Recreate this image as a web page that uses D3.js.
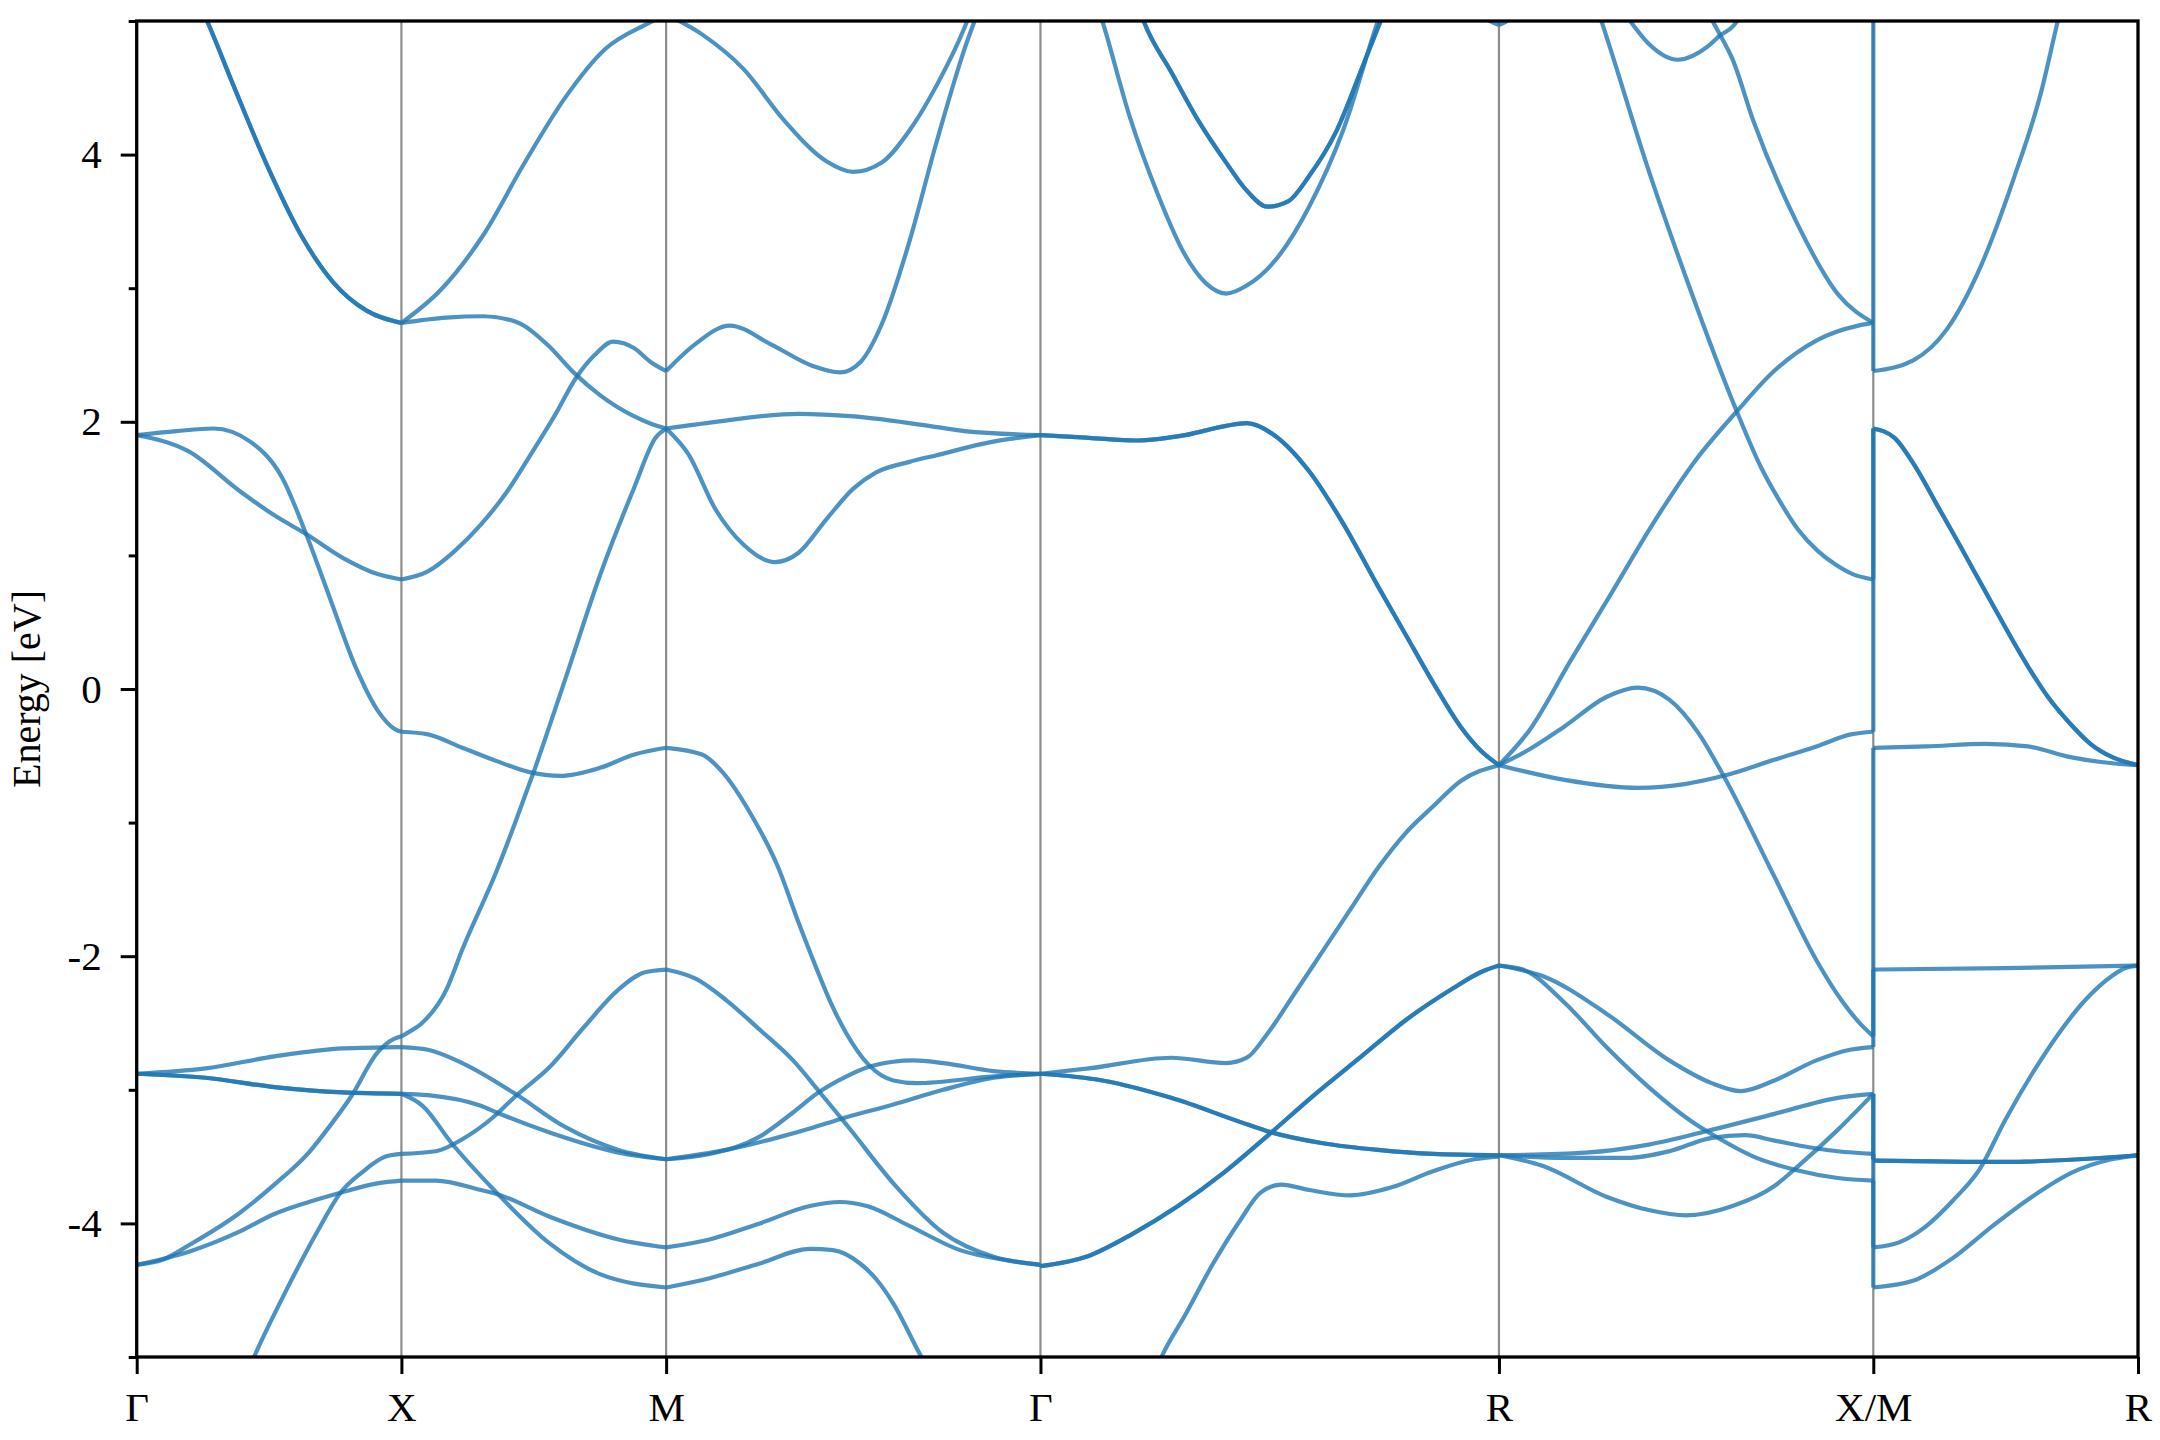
<!DOCTYPE html>
<html><head><meta charset="utf-8">
<script src="https://cdn.jsdelivr.net/npm/d3@7"></script>
<style>
body{margin:0;background:#fff;}
text{font-family:"Liberation Serif","Times New Roman",serif;}
</style>
</head><body>
<svg id="chart" width="2160" height="1440"></svg>
<script>
// ---------- labels / ticks ----------
const kLabels = ["Γ","X","M","Γ","R","X/M","R"];
const kTicks = [0, 0.5, 1.0, 1.7071, 2.5731, 3.2802, 3.7802];
const yMajorTicks = [-4, -2, 0, 2, 4];
const yMinorTicks = [-5, -3, -1, 1, 3, 5];
const yLabel = "Energy [eV]";

// ---------- bands: [t along segment (0..1), energy eV] ----------
// Γ → X
const gxTop = [[0,6.0],[0.12,5.6],[0.266,5.0],[0.365,4.52],[0.49,3.93],[0.62,3.40],[0.74,3.05],[0.87,2.83],[1,2.74]];
const gxF   = [[0,1.90],[0.15,1.93],[0.29,1.95],[0.43,1.85],[0.55,1.58],[0.64,1.16],[0.73,0.68],[0.83,0.15],[0.91,-0.16],[0.975,-0.30],[1,-0.32]];
const gxG   = [[0,1.90],[0.195,1.78],[0.39,1.48],[0.52,1.30],[0.64,1.16],[0.78,0.98],[0.91,0.86],[1,0.82]];
const gxDup = [[0,-2.88],[0.26,-2.84],[0.52,-2.75],[0.78,-2.69],[1,-2.68]];
const gxDlo = [[0,-2.88],[0.26,-2.91],[0.52,-2.98],[0.78,-3.02],[1,-3.03]];
const gxA   = [[0,-4.31],[0.1,-4.27],[0.2,-4.16],[0.39,-3.92],[0.52,-3.71],[0.65,-3.47],[0.73,-3.27],[0.81,-3.05],[0.91,-2.72],[0.97,-2.62],[1,-2.60]];
const gxB   = [[0,-4.31],[0.2,-4.21],[0.39,-4.06],[0.52,-3.93],[0.65,-3.84],[0.77,-3.77],[0.91,-3.70],[1,-3.68]];
const gxC   = [[0.40,-5.2],[0.45,-4.97],[0.56,-4.52],[0.68,-4.07],[0.77,-3.77],[0.85,-3.62],[0.94,-3.50],[1,-3.48]];
const segGX = [gxTop, gxTop, gxF, gxG, gxDup, gxDlo, gxDlo, gxA, gxB, gxC];

// X → M
const xmA  = [[0,-2.60],[0.026,-2.57],[0.078,-2.50],[0.17,-2.25],[0.23,-1.95],[0.36,-1.36],[0.43,-1.0],[0.5,-0.62],[0.62,0.08],[0.75,0.85],[0.88,1.51],[0.96,1.88],[1,1.95]];
const xmF  = [[0,-0.32],[0.10,-0.34],[0.23,-0.44],[0.36,-0.54],[0.48,-0.62],[0.60,-0.65],[0.75,-0.59],[0.88,-0.49],[1,-0.44]];
const xmG  = [[0,0.82],[0.10,0.88],[0.20,1.03],[0.30,1.23],[0.40,1.48],[0.49,1.76],[0.58,2.05],[0.66,2.33],[0.73,2.50],[0.80,2.60],[0.88,2.55],[0.94,2.45],[1,2.38]];
const xmH  = [[0,2.74],[0.17,2.78],[0.31,2.79],[0.43,2.75],[0.55,2.58],[0.65,2.37],[0.75,2.20],[0.88,2.04],[0.95,1.98],[1,1.95]];
const xmI  = [[0,2.74],[0.15,2.99],[0.31,3.40],[0.46,3.92],[0.62,4.43],[0.77,4.79],[0.93,4.98],[1,5.05]];
const xmB  = [[0,-3.68],[0.13,-3.68],[0.30,-3.75],[0.36,-3.78],[0.56,-3.95],[0.82,-4.12],[1,-4.18]];
const xmC  = [[0,-3.48],[0.13,-3.46],[0.23,-3.37],[0.35,-3.20],[0.43,-3.05],[0.56,-2.83],[0.69,-2.53],[0.82,-2.25],[0.92,-2.12],[1,-2.10]];
const xmDup= [[0,-2.68],[0.10,-2.70],[0.23,-2.80],[0.43,-3.03],[0.62,-3.28],[0.82,-3.45],[1,-3.52]];
const xmDlo= [[0,-3.03],[0.10,-3.04],[0.30,-3.12],[0.36,-3.17],[0.56,-3.32],[0.82,-3.47],[1,-3.52]];
const xmE  = [[0,-3.03],[0.08,-3.12],[0.19,-3.40],[0.35,-3.75],[0.56,-4.15],[0.75,-4.38],[1,-4.48]];
const segXM = [xmA, xmF, xmG, xmH, xmI, xmB, xmC, xmDup, xmDlo, xmE];

// M → Γ
const mgC   = [[0,-2.10],[0.08,-2.17],[0.161,-2.33],[0.25,-2.55],[0.339,-2.78],[0.411,-3.02],[0.464,-3.20],[0.49,-3.29],[0.607,-3.70],[0.74,-4.07],[0.875,-4.25],[1,-4.31]];
const mgF   = [[0,-0.44],[0.096,-0.49],[0.15,-0.62],[0.225,-0.93],[0.30,-1.34],[0.354,-1.75],[0.40,-2.08],[0.44,-2.35],[0.482,-2.58],[0.54,-2.81],[0.607,-2.93],[0.669,-2.95],[0.875,-2.90],[1,-2.88]];
const mgHump= [[0,-3.52],[0.116,-3.48],[0.25,-3.35],[0.339,-3.17],[0.402,-3.03],[0.482,-2.90],[0.54,-2.83],[0.607,-2.79],[0.66,-2.78],[0.74,-2.80],[0.875,-2.86],[1,-2.88]];
const mgD   = [[0,-3.52],[0.161,-3.45],[0.295,-3.36],[0.384,-3.29],[0.464,-3.22],[0.607,-3.11],[0.74,-3.00],[0.875,-2.91],[1,-2.88]];
const mgL1  = [[0,-4.18],[0.116,-4.12],[0.25,-4.00],[0.384,-3.87],[0.464,-3.84],[0.536,-3.87],[0.651,-4.02],[0.785,-4.20],[0.92,-4.28],[1,-4.31]];
const mgL2  = [[0,-4.48],[0.116,-4.41],[0.25,-4.30],[0.384,-4.19],[0.446,-4.20],[0.518,-4.30],[0.562,-4.42],[0.607,-4.60],[0.678,-4.98],[0.75,-5.35]];
const mgH   = [[0,1.95],[0.133,2.00],[0.354,2.06],[0.502,2.04],[0.723,1.96],[0.797,1.93],[1,1.90]];
const mgA   = [[0,1.95],[0.059,1.76],[0.133,1.34],[0.207,1.08],[0.29,0.95],[0.354,1.02],[0.428,1.27],[0.50,1.50],[0.56,1.62],[0.65,1.70],[0.723,1.75],[0.87,1.85],[1,1.90]];
const mgG   = [[0,2.38],[0.077,2.58],[0.17,2.72],[0.28,2.58],[0.39,2.42],[0.465,2.37],[0.52,2.45],[0.576,2.73],[0.65,3.35],[0.72,4.07],[0.797,4.79],[0.83,5.05],[0.9,5.7]];
const mgI   = [[0,5.05],[0.096,4.90],[0.207,4.64],[0.317,4.25],[0.428,3.95],[0.50,3.87],[0.576,3.94],[0.65,4.18],[0.723,4.52],[0.797,4.95],[0.85,5.35]];
const segMG = [mgC, mgF, mgHump, mgD, mgL1, mgL2, mgH, mgA, mgG, mgI];

// Γ → R
const grLow  = [[0.22,-5.4],[0.264,-5.0],[0.315,-4.69],[0.375,-4.31],[0.435,-3.98],[0.48,-3.77],[0.525,-3.71],[0.586,-3.75],[0.676,-3.79],[0.766,-3.73],[0.856,-3.61],[0.946,-3.52],[1,-3.50]];
const grUp2  = [[0,-4.32],[0.1,-4.25],[0.2,-4.08],[0.3,-3.87],[0.4,-3.62],[0.5,-3.33],[0.6,-3.03],[0.7,-2.75],[0.8,-2.47],[0.9,-2.24],[0.96,-2.12],[1,-2.07]];
const grDn3  = [[0,-2.88],[0.135,-2.93],[0.285,-3.06],[0.435,-3.24],[0.495,-3.31],[0.616,-3.40],[0.736,-3.45],[0.856,-3.48],[1,-3.49]];
const grRise = [[0,-2.88],[0.105,-2.84],[0.285,-2.76],[0.405,-2.80],[0.45,-2.76],[0.495,-2.58],[0.556,-2.27],[0.616,-1.96],[0.676,-1.65],[0.736,-1.34],[0.796,-1.08],[0.856,-0.88],[0.916,-0.69],[1,-0.57]];
const grT2g  = [[0,1.90],[0.105,1.88],[0.21,1.86],[0.315,1.90],[0.405,1.97],[0.45,1.99],[0.51,1.90],[0.586,1.63],[0.66,1.24],[0.736,0.77],[0.796,0.41],[0.856,0.05],[0.916,-0.28],[0.96,-0.46],[1,-0.57]];
const grTopA = [[0.05,5.8],[0.135,5.0],[0.195,4.28],[0.255,3.71],[0.315,3.25],[0.36,3.04],[0.405,2.96],[0.45,3.02],[0.51,3.20],[0.586,3.61],[0.66,4.18],[0.736,5.0],[0.8,5.6]];
const grTopB = [[0.18,5.5],[0.225,5.0],[0.285,4.62],[0.345,4.25],[0.405,3.94],[0.45,3.73],[0.495,3.61],[0.54,3.65],[0.586,3.84],[0.646,4.18],[0.706,4.69],[0.742,5.0],[0.8,5.5]];
const grTopR = [[0.9,5.35],[0.95,5.08],[1,4.97]];
const segGR = [grLow, grUp2, grUp2, grDn3, grDn3, grRise, grT2g, grT2g, grTopA, grTopB, grTopB, grTopR];

// R → X
const rxSR  = [[0,-0.57],[0.081,-0.31],[0.191,0.21],[0.301,0.72],[0.412,1.24],[0.522,1.70],[0.636,2.08],[0.735,2.38],[0.849,2.61],[0.96,2.72],[1,2.74]];
const rxHp  = [[0,-0.57],[0.07,-0.47],[0.175,-0.28],[0.287,-0.06],[0.371,0.01],[0.455,-0.08],[0.533,-0.33],[0.60,-0.65],[0.735,-1.40],[0.848,-2.03],[0.915,-2.33],[0.97,-2.52],[1,-2.60]];
const rxFl  = [[0,-0.57],[0.175,-0.68],[0.371,-0.74],[0.50,-0.71],[0.60,-0.65],[0.735,-0.53],[0.848,-0.43],[0.94,-0.34],[1,-0.32]];
const rxSD  = [[0.2,5.6],[0.276,4.98],[0.40,3.88],[0.51,3.0],[0.635,2.08],[0.70,1.66],[0.743,1.44],[0.80,1.19],[0.853,1.03],[0.90,0.93],[0.945,0.86],[1,0.82]];
const rxDip = [[0.30,5.2],[0.353,4.99],[0.40,4.83],[0.478,4.71],[0.558,4.81],[0.59,4.89],[0.625,4.96],[0.66,5.1]];
const rxDX  = [[0.55,5.1],[0.59,4.90],[0.623,4.72],[0.68,4.25],[0.794,3.50],[0.907,2.95],[1,2.74]];
const rxTopR= [[0,4.97],[0.03,5.02],[0.08,5.3]];
const rxR1  = [[0,-2.07],[0.118,-2.15],[0.287,-2.43],[0.455,-2.78],[0.568,-2.95],[0.646,-3.01],[0.736,-2.93],[0.848,-2.78],[0.938,-2.70],[1,-2.68]];
const rxR2  = [[0,-2.07],[0.064,-2.10],[0.176,-2.35],[0.287,-2.68],[0.40,-2.98],[0.511,-3.23],[0.579,-3.35],[0.68,-3.50],[0.793,-3.60],[0.905,-3.66],[1,-3.68]];
const rxR3  = [[0,-3.49],[0.176,-3.51],[0.343,-3.51],[0.455,-3.46],[0.568,-3.36],[0.658,-3.34],[0.736,-3.38],[0.828,-3.43],[0.905,-3.46],[1,-3.48]];
const rxR4  = [[0,-3.49],[0.232,-3.47],[0.40,-3.41],[0.568,-3.30],[0.736,-3.18],[0.905,-3.06],[1,-3.03]];
const rxR5  = [[0,-3.49],[0.118,-3.57],[0.287,-3.80],[0.40,-3.90],[0.50,-3.94],[0.624,-3.87],[0.736,-3.72],[0.80,-3.57],[0.905,-3.30],[1,-3.03]];
const segRX = [rxSR, rxHp, rxFl, rxSD, rxDip, rxDX, rxTopR, rxR1, rxR2, rxR3, rxR4, rxR5];

// M → R
const mrG   = [[0,2.38],[0.151,2.46],[0.277,2.69],[0.405,3.16],[0.532,3.83],[0.633,4.46],[0.697,5.0],[0.76,5.5]];
const mrTop = [[0,5.05],[0.15,5.4]];
const mrT2g = [[0,1.95],[0.08,1.88],[0.16,1.66],[0.24,1.38],[0.32,1.10],[0.44,0.67],[0.584,0.17],[0.66,-0.06],[0.744,-0.26],[0.82,-0.41],[0.903,-0.51],[1,-0.57]];
const mrFl  = [[0,-0.44],[0.2,-0.43],[0.424,-0.41],[0.584,-0.43],[0.744,-0.51],[0.903,-0.556],[1,-0.57]];
const mrC   = [[0,-2.10],[0.5,-2.09],[1,-2.07]];
const mrD   = [[0,-3.53],[0.5,-3.54],[1,-3.49]];
const mrL1  = [[0,-4.18],[0.1,-4.14],[0.2,-4.02],[0.3,-3.83],[0.4,-3.60],[0.5,-3.22],[0.6,-2.88],[0.7,-2.58],[0.8,-2.33],[0.9,-2.15],[0.95,-2.09],[1,-2.07]];
const mrL2  = [[0,-4.48],[0.15,-4.43],[0.3,-4.26],[0.45,-4.02],[0.6,-3.80],[0.75,-3.62],[0.9,-3.52],[1,-3.49]];
const segMR = [mrG, mrTop, mrT2g, mrT2g, mrFl, mrC, mrD, mrD, mrL1, mrL2];

const segments = [segGX, segXM, segMG, segGR, segRX, segMR];

// vertical connections at the X/M discontinuity: [E at X, E at M]
const jumpXM = [[-3.68,-4.48],[-3.48,-4.18],[-3.03,-3.52],[-3.03,-3.52],[-2.68,-2.10],[-2.60,-0.44],[-0.32,1.95],[0.82,1.95],[2.74,2.38],[2.74,5.05]];

// ---------- drawing ----------
const W = 2160, H = 1440;
const L = 136.7, R = 2138, T = 21, B = 1357;
const x = d3.scaleLinear().domain([kTicks[0], kTicks[kTicks.length-1]]).range([L, R]);
const y = d3.scaleLinear().domain([-5, 5]).range([B, T]);
const BLUE = "#1f77b4";

const svg = d3.select("#chart");
svg.append("rect").attr("width", W).attr("height", H).attr("fill", "#fff");
svg.append("defs").append("clipPath").attr("id", "clip")
  .append("rect").attr("x", L).attr("y", T).attr("width", R - L).attr("height", B - T);

// high-symmetry lines
svg.append("g").selectAll("line").data(kTicks.slice(1, -1)).join("line")
  .attr("x1", d => x(d)).attr("x2", d => x(d)).attr("y1", T).attr("y2", B)
  .attr("stroke", "#000").attr("stroke-opacity", 0.45).attr("stroke-width", 2.2);

const line = d3.line().x(d => x(d[0])).y(d => y(d[1])).curve(d3.curveMonotoneX);
const gB = svg.append("g").attr("clip-path", "url(#clip)");
segments.forEach((seg, i) => {
  const k0 = kTicks[i], k1 = kTicks[i + 1];
  seg.forEach(pts => {
    gB.append("path")
      .attr("d", line(pts.map(p => [k0 + p[0] * (k1 - k0), p[1]])))
      .attr("fill", "none").attr("stroke", BLUE)
      .attr("stroke-width", 4.2).attr("stroke-opacity", 0.8)
      .attr("stroke-linejoin", "round");
  });
});
gB.append("g").selectAll("line").data(jumpXM).join("line")
  .attr("x1", x(kTicks[5])).attr("x2", x(kTicks[5]))
  .attr("y1", d => y(d[0])).attr("y2", d => y(d[1]))
  .attr("stroke", BLUE).attr("stroke-width", 4.2).attr("stroke-opacity", 0.8);

// axes
function styleAxis(g) {
  g.select(".domain").remove();
  g.selectAll(".tick line").attr("stroke", "#000").attr("stroke-width", 3);
  g.selectAll(".tick text").attr("fill", "#000").style("font-size", "41px")
    .style("font-family", '"Liberation Serif","Times New Roman",serif');
}
svg.append("g").attr("transform", `translate(${L},0)`)
  .call(d3.axisLeft(y).tickValues(yMinorTicks).tickSize(8).tickFormat(""))
  .call(styleAxis);
svg.append("g").attr("transform", `translate(${L},0)`)
  .call(d3.axisLeft(y).tickValues(yMajorTicks).tickSize(16).tickPadding(19).tickFormat(d => String(d)))
  .call(styleAxis);
svg.append("g").attr("transform", `translate(0,${B})`)
  .call(d3.axisBottom(x).tickValues(kTicks).tickSize(17).tickPadding(18).tickFormat((d, i) => kLabels[i]))
  .call(styleAxis);

// frame
svg.append("rect").attr("x", L).attr("y", T).attr("width", R - L).attr("height", B - T)
  .attr("fill", "none").attr("stroke", "#000").attr("stroke-width", 3.3);

// y label
svg.append("text").attr("transform", `translate(40,${(T + B) / 2}) rotate(-90)`)
  .attr("text-anchor", "middle").style("font-size", "40px").attr("fill", "#000")
  .text(yLabel);
</script>
</body></html>
